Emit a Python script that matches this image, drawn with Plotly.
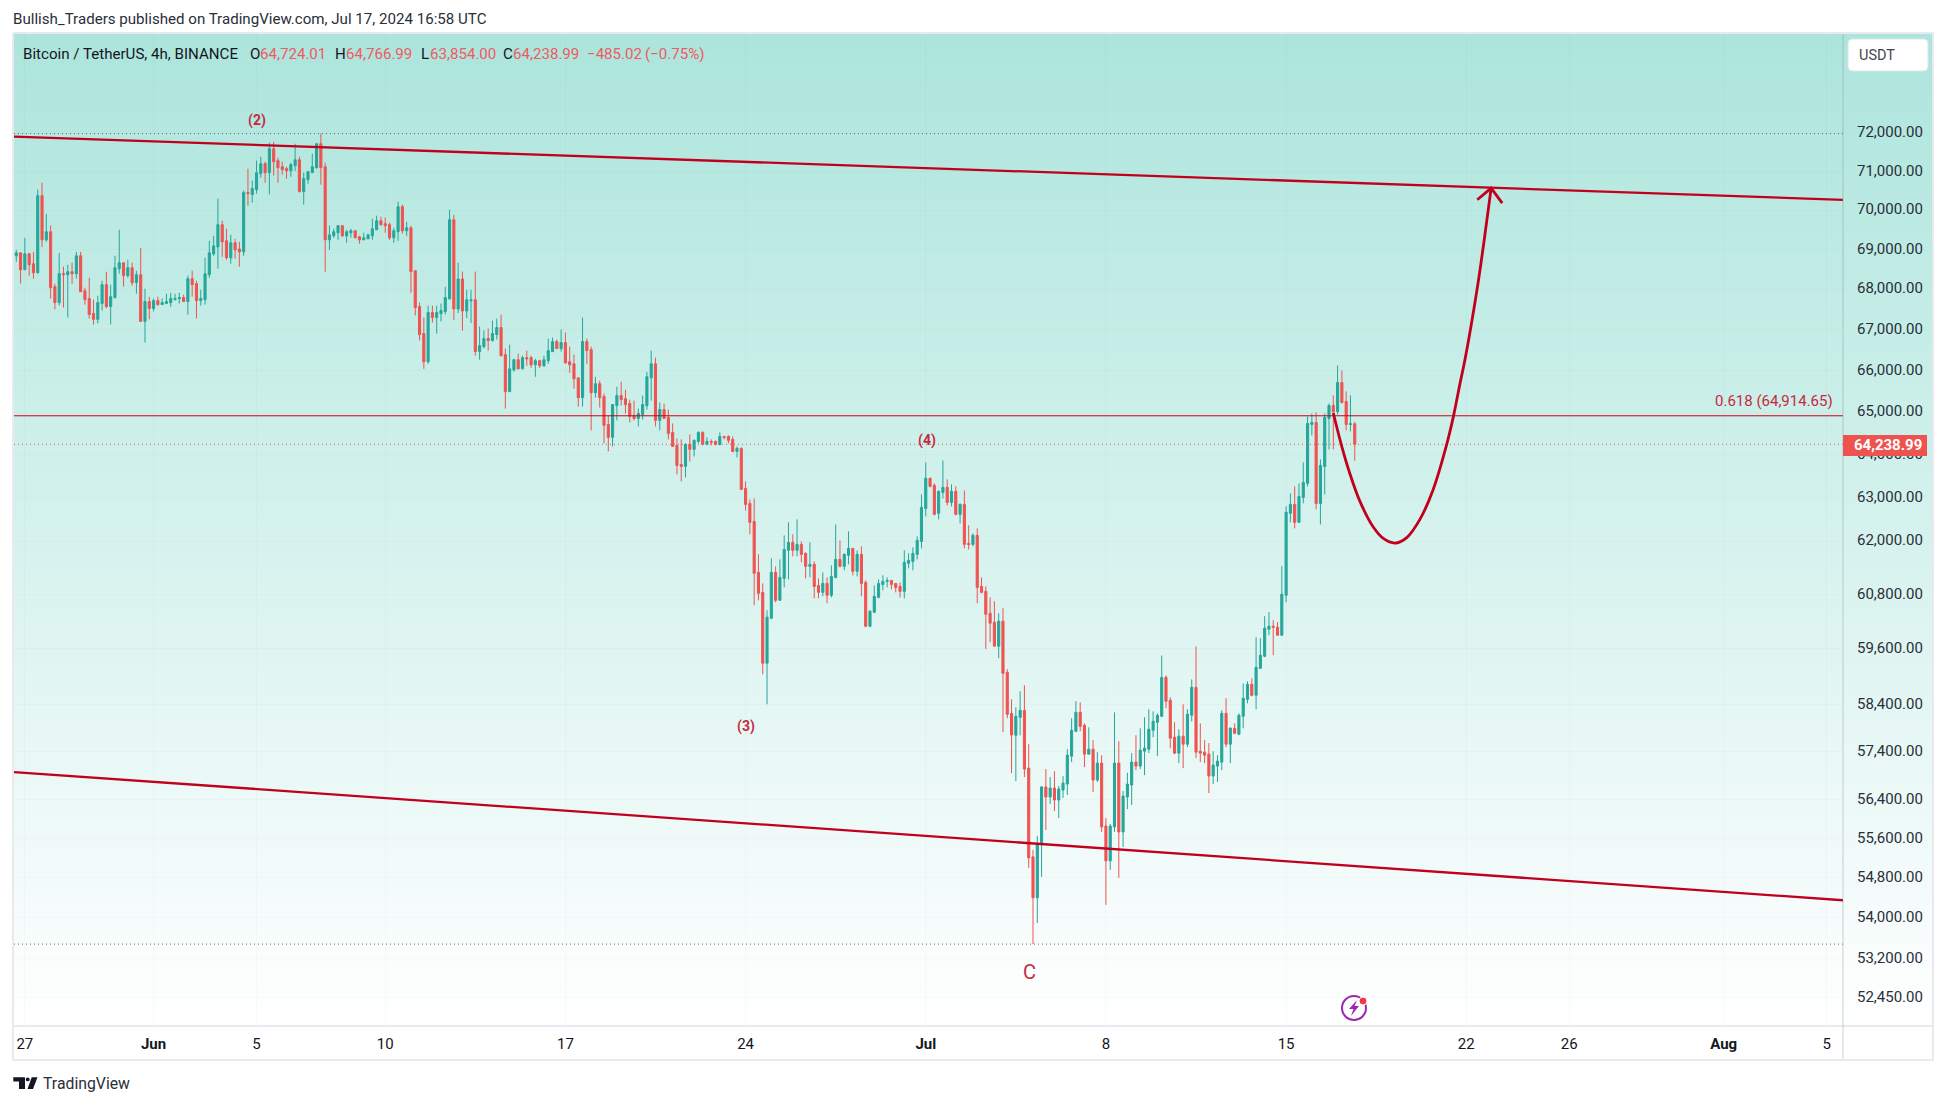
import math
import pandas as pd
import plotly.graph_objects as go

first_candle = "2024-05-26 16:00"
opens = [
68835,68910,68485,68885,68635,68410,70370,69240,69445,68060,
67665,68385,68360,68435,68385,68835,67960,67765,67395,67250,
67640,68110,67565,67790,68510,68660,68335,68535,68160,68360,
67200,67690,67520,67715,67615,67640,67665,67740,67765,67790,
67690,68260,68135,67715,67740,68360,68885,69060,69625,69215,
68785,69165,69010,68935,70450,70400,70525,70940,71200,70965,
71590,71280,71120,71070,71015,71150,71300,70475,70785,70965,
71095,71722,71120,69240,69340,69420,69600,69340,69420,69470,
69315,69240,69265,69340,69495,69725,69650,69625,69290,69445,
70085,69470,69545,68460,67565,66900,66213,67418,67295,67393,
67443,67760,69751,67508,68253,67457,67710,67734,66459,66582,
66779,66729,66877,67049,66385,65491,66016,66262,66041,66312,
66312,66139,66238,66115,66238,66459,66705,66533,66680,66213,
66164,65825,65348,66705,66508,65467,65682,65372,64709,64403,
65157,65396,65324,65205,64921,64851,64945,65157,65825,66164,
64804,65062,64874,64521,64214,63768,63721,64238,64120,64308,
64521,64238,64308,64308,64238,64426,64426,64355,64072,64143,
63209,62863,62450,61293,60846,59285,60272,61293,60669,61158,
61790,61970,61790,61925,61722,61429,61474,61000,60846,61045,
60780,61180,61586,61429,61677,61835,61316,61699,61068,60096,
60404,60735,61023,61090,61113,61045,60978,60868,61496,61541,
61699,61992,62748,63442,63279,62634,63116,63233,62886,63140,
62611,62840,61947,61925,62130,60978,60868,60382,60184,59657,
60206,59088,58207,57741,58121,58271,57049,55223,54400,55466,
56655,56448,56634,56386,56593,56717,57300,57825,58228,57951,
57342,57447,56800,57154,55851,55142,55831,57154,55730,56448,
56697,57175,57091,57405,57447,57846,58014,58143,58978,58486,
57699,57363,57720,57552,58164,58764,57405,57384,57342,56883,
57091,57175,58207,57552,57888,57762,58143,58507,58828,58593,
59175,59438,60029,60096,60074,59898,60780,62634,62840,62428,
63000,63326,64708,64756,62863,63721,64850,65160,65016,65712,65256,64708,64724.01]
highs = [
68985,68910,69290,68910,68935,70525,70705,69905,69600,68135,
68910,68560,68610,68660,68935,68935,68035,68285,67740,67835,
68210,68435,68110,68835,69495,68660,68735,68660,68460,69035,
68010,67810,67765,67810,67765,67885,67910,67885,67910,67860,
68335,68460,68210,67985,68785,69215,69340,70295,69725,69520,
69365,69265,69190,70500,71070,70760,71280,71380,71250,71750,
71775,71355,71250,71120,71225,71722,71380,70965,71015,71460,
71722,71990,71225,69600,69520,69600,69600,69495,69520,69470,
69340,69420,69395,69780,69855,69830,69805,69675,69545,70215,
70140,69700,69600,68460,67665,67295,67590,67590,67590,67640,
68058,70005,69878,68660,68437,67985,67985,68437,67074,66975,
67025,67221,67270,67369,66533,66631,66287,66410,66361,66484,
66361,66287,66262,66361,66779,66803,66754,67000,66926,66582,
66385,65825,67295,66779,66582,65849,65754,65444,64921,65181,
65610,65730,65539,65300,65276,65086,65396,65968,66484,66312,
65229,65205,65062,64733,64379,64355,64261,64473,64355,64544,
64544,64403,64355,64332,64521,64426,64450,64426,64190,64167,
63372,62954,62977,61699,61045,60449,61609,61429,61586,62130,
62427,62153,62496,61992,61745,61970,61541,61158,61293,61180,
61451,62382,62015,61722,62222,61835,61790,61880,61113,60449,
61000,61135,61226,61180,61113,61045,61068,61790,61722,61857,
62107,63070,63814,63465,63326,63163,63860,63419,63302,63256,
62863,63163,62359,62176,62290,61180,60978,60735,60647,60382,
60492,59153,58507,58336,58678,58807,57552,55364,55648,56676,
57028,56862,56986,56676,56883,57447,58100,58464,58443,57993,
57909,57636,57384,57321,56014,55892,58228,57615,56572,56952,
57363,57741,57888,58121,58293,58250,58207,59454,59021,58550,
58014,57867,58400,58293,58935,59650,57993,57636,57573,57405,
57321,58271,58528,57909,57993,58207,58850,58893,58957,59854,
59832,60316,60405,60228,60184,61435,62794,63093,63256,63326,
63814,64897,64968,64992,63884,64968,65208,65400,66122,66000,65496,65400,64766.99]
lows = [
68685,68135,68485,68335,68260,68385,69060,69190,67765,67495,
67590,67540,67295,68135,68260,67935,67615,67270,67125,67150,
67470,67520,67125,67765,68385,68060,68285,68085,67885,67200,
66680,67250,67445,67590,67615,67640,67565,67715,67640,67690,
67370,67810,67270,67590,67615,68285,68835,68510,68810,68735,
68635,68760,68560,68835,70110,70190,70425,70835,70705,70400,
70890,70705,70915,70810,70860,71015,70450,70140,70680,70965,
71070,70655,68435,68985,69290,69240,69315,69165,69290,69290,
69140,69240,69265,69240,69495,69600,69420,69240,69165,69215,
69395,69340,67910,67345,66730,66040,66165,67172,66900,67197,
67369,67735,67232,67407,66970,67281,67160,66362,66262,66533,
66484,66705,66754,66336,65086,65491,65968,66041,66041,66115,
66066,65849,66066,66090,66164,66459,66533,66459,66164,65944,
65563,65133,65133,66164,64568,65348,65110,64261,64072,64190,
64804,65157,64969,64757,64804,64662,64827,65062,65276,64662,
64568,64851,64355,64190,63535,63372,63465,63837,63954,64261,
64214,64214,64214,64214,64214,64355,64261,64049,63930,63186,
62702,62153,60559,60669,59044,58400,60250,60625,60669,60956,
61135,61654,61654,61519,61158,61180,60713,60713,60757,60603,
60735,61158,61406,61339,61474,61226,61203,60757,60074,60074,
60382,60713,60890,60956,60912,60846,60735,60713,61384,61339,
61586,61835,62565,63233,62588,62496,62977,62817,62794,62588,
62405,61835,61812,61880,60603,60824,59591,59745,59657,59394,
57806,58100,56945,56779,57741,56862,55000,53485,53900,54820,
55770,56303,56159,56014,56428,56490,57175,57804,57825,57070,
57342,56552,56759,55730,54260,54960,55730,54800,55425,56200,
56283,57007,57028,56903,57363,57699,57300,58143,58314,57468,
57342,57154,57049,57489,58036,57258,57175,57154,56531,56717,
56759,57007,57489,57154,57762,57741,57888,58421,58571,58293,
59175,59416,59898,59460,59898,59876,60625,62428,62290,62428,
62863,63256,64449,62725,62382,63070,64118,64118,64944,65208,64567,64543,63854]
closes = [
68910,68485,68885,68610,68410,70370,69240,69445,68035,67665,
68385,68360,68435,68385,68835,67935,67740,67370,67250,67665,
68110,67565,67810,68535,68660,68335,68535,68160,68360,67200,
67690,67520,67715,67615,67665,67690,67765,67765,67790,67690,
68260,68110,67715,67765,68385,68910,69085,69625,69190,68785,
69165,68985,68935,70450,70425,70555,70965,71200,70965,71590,
71250,71095,71045,71015,71175,71300,70475,70810,70990,71120,
71722,71095,69240,69365,69445,69600,69340,69445,69470,69290,
69240,69290,69365,69520,69725,69625,69600,69290,69470,70085,
69470,69545,68435,67540,66875,66213,67418,67295,67418,67467,
67787,69751,67508,68253,67457,67734,67734,66462,66606,66779,
66729,66902,67049,66361,65491,66041,66262,66041,66312,66287,
66139,66238,66115,66262,66484,66705,66533,66680,66188,66139,
65801,65348,66705,66484,65467,65682,65348,64686,64403,65181,
65396,65300,65181,64898,64851,64969,65181,65849,66164,64804,
65062,64851,64497,64190,63744,63721,64238,64120,64332,64521,
64238,64308,64285,64238,64426,64403,64332,64072,64143,63186,
62840,62427,61271,60824,59285,60294,61293,60669,61180,61812,
61970,61790,61925,61699,61429,61474,60978,60846,61045,60780,
61203,61586,61429,61699,61835,61316,61699,61045,60096,60426,
60757,61045,61090,61113,61023,60956,60868,61519,61564,61722,
62015,62771,63442,63256,62611,63140,63233,62886,63140,62611,
62840,61925,61925,62130,60956,60846,60360,60162,59657,60206,
59066,58186,57745,58143,58271,57028,55203,54400,55486,56655,
56448,56634,56386,56614,56738,57321,57846,58228,57930,57342,
57447,56800,57154,55831,55142,55851,57154,55730,56469,56717,
57175,57091,57426,57468,57867,58036,58164,58978,58464,57678,
57363,57720,57552,58186,58764,57384,57363,57321,56883,57112,
57196,58207,57552,57888,57783,58164,58528,58828,58593,59197,
59460,60052,60096,60074,59898,60802,62657,62840,62428,63023,
63349,64732,64756,62863,63744,64874,65160,65016,65712,65232,64708,64724.01,64238.99]

x_start, x_end = "2024-05-26 13:52", "2024-08-05 15:15"
price_low, price_high = 51903, 74666

upper_channel = [71910, 70263]
lower_channel = [56967, 54352]
fib_level = 64914.65
high_level = 71990
low_level = 53485
last_price = 64238.99

curve_dates = ["2024-07-16 20:00","2024-07-17 03:45","2024-07-17 11:30","2024-07-17 20:45","2024-07-18 09:15",
               "2024-07-18 18:40","2024-07-19 05:30","2024-07-19 16:30","2024-07-20 04:45","2024-07-20 17:10",
               "2024-07-21 05:40","2024-07-21 12:00","2024-07-21 18:10","2024-07-21 22:45","2024-07-22 10:00",
               "2024-07-22 16:45","2024-07-22 23:10"]
curve_prices = [64980,64205,63550,62915,62320,62060,61955,62080,62495,63185,64230,64900,65690,66260,67985,69241,70565]
arrow_dates = ["2024-07-22 10:15","2024-07-22 23:10","2024-07-23 09:30"]
arrow_prices = [70263,70565,70178]

y_tick_values = [72000,71000,70000,69000,68000,67000,66000,65000,64000,63000,62000,60800,59600,58400,57400,56400,55600,54800,54000,53200,52450]
x_tick_dates = ["2024-05-27","2024-06-01","2024-06-05","2024-06-10","2024-06-17","2024-06-24","2024-07-01","2024-07-08","2024-07-15","2024-07-22","2024-07-26","2024-08-01","2024-08-05"]
x_tick_labels = ["27","<b>Jun</b>","5","10","17","24","<b>Jul</b>","8","15","22","26","<b>Aug</b>","5"]

W, H = 1946, 1105
L, R, T, B = 14, 1843, 34, 1026
GRAD_R = 1932
BOTTOM = 1060
GREEN, RED = "#26a69a", "#ef5350"
LINE_RED = "#c0001c"
LABEL_RED = "#c62a3f"
INK = "#131722"
SANS = "Roboto"

px = lambda x: x / W
py = lambda y: 1 - y / H

dates = pd.date_range(first_candle, periods=len(opens), freq="4h")
span = [x_start, x_end]

fig = go.Figure()
fig.add_trace(go.Heatmap(x=[0, 1], y=[0, 1], z=[[1, 1], [0, 0]], zsmooth="best", showscale=False,
                         zmin=0, zmax=1, colorscale=[[0, "#ace5dc"], [1, "#ffffff"]],
                         hoverinfo="skip", xaxis="x", yaxis="y"))
fig.add_trace(go.Candlestick(x=dates, open=opens, high=highs, low=lows, close=closes,
                             increasing=dict(line=dict(color=GREEN, width=1), fillcolor=GREEN),
                             decreasing=dict(line=dict(color=RED, width=1), fillcolor=RED),
                             whiskerwidth=0, xaxis="x2", yaxis="y2", hoverinfo="skip"))

def line(xs, ys, color, width, dash="solid", shape="linear"):
    fig.add_trace(go.Scatter(x=xs, y=ys, mode="lines", xaxis="x2", yaxis="y2", hoverinfo="skip",
                             line=dict(color=color, width=width, dash=dash, shape=shape)))

line(span, [high_level] * 2, "#5f6f6c", 1, "1px,3px")
line(span, [low_level] * 2, "#5f6f6c", 1, "1px,3px")
line(span, [last_price] * 2, RED, 1, "1px,3px")
line(span, [fib_level] * 2, "#cc0014", 1)
line(span, upper_channel, LINE_RED, 2.3)
line(span, lower_channel, LINE_RED, 2.3)
line(curve_dates, curve_prices, LINE_RED, 2.8, shape="spline")
line(arrow_dates, arrow_prices, LINE_RED, 2.8)

grid = "rgba(110,120,130,0.035)"
fig.update_layout(
    width=W, height=H, margin=dict(l=0, r=0, t=0, b=0), autosize=False, showlegend=False,
    paper_bgcolor="#ffffff", plot_bgcolor="rgba(0,0,0,0)", hovermode=False,
    xaxis=dict(domain=[px(L), px(GRAD_R)], range=[0, 1], visible=False, fixedrange=True),
    yaxis=dict(domain=[py(B), py(T)], range=[0, 1], visible=False, fixedrange=True),
    xaxis2=dict(domain=[px(L), px(R)], range=span, type="date", anchor="y2", rangeslider=dict(visible=False),
                tickmode="array", tickvals=x_tick_dates, ticktext=x_tick_labels, tickangle=0,
                ticks="outside", ticklen=4, tickcolor="rgba(0,0,0,0)", showgrid=True, gridcolor=grid,
                zeroline=False, showline=False, tickfont=dict(family=SANS, size=15, color=INK)),
    yaxis2=dict(domain=[py(B), py(T)], type="log", range=[math.log10(price_low), math.log10(price_high)],
                anchor="x2", side="right", tickmode="array", tickvals=y_tick_values,
                ticktext=[f"{v:,.2f}" for v in y_tick_values], ticks="outside", ticklen=10,
                tickcolor="rgba(0,0,0,0)", showgrid=True, gridcolor=grid, zeroline=False, showline=False,
                ticklabelshift=-1, tickfont=dict(family=SANS, size=15, color="#2a2e39")),
)

shapes = []
def hline(y, x0, x1, color, width=1):
    shapes.append(dict(type="line", xref="paper", yref="paper", x0=px(x0), x1=px(x1), y0=py(y), y1=py(y),
                       line=dict(color=color, width=width)))
def vline(x, y0, y1, color, width=1):
    shapes.append(dict(type="line", xref="paper", yref="paper", x0=px(x), x1=px(x), y0=py(y0), y1=py(y1),
                       line=dict(color=color, width=width)))
def poly(points, fill):
    d = "M" + " L".join(f"{px(a):.5f},{py(b):.5f}" for a, b in points) + " Z"
    shapes.append(dict(type="path", xref="paper", yref="paper", path=d, fillcolor=fill, line=dict(width=0)))

border = "#e8eaef"
hline(B, L, GRAD_R, "#e0e3eb", 1.5)
vline(R, T, BOTTOM, "rgba(120,140,140,0.25)", 1.5)
hline(33, L - 1, GRAD_R + 2, border, 2)
hline(BOTTOM, L - 1, GRAD_R + 2, border, 2)
vline(L - 1, T - 1, BOTTOM, border, 2)
vline(GRAD_R + 1, T - 1, BOTTOM, border, 2)

# last price tag
shapes.append(dict(type="rect", xref="paper", yref="paper", x0=px(R), x1=px(1927), y0=py(435), y1=py(456),
                   fillcolor=RED, line=dict(width=0)))
# USDT button
bx0, bx1, by0, by1, r = 1848, 1928, 39, 71, 4
bd = (f"M{px(bx0+r)},{py(by0)} L{px(bx1-r)},{py(by0)} Q{px(bx1)},{py(by0)} {px(bx1)},{py(by0+r)} "
      f"L{px(bx1)},{py(by1-r)} Q{px(bx1)},{py(by1)} {px(bx1-r)},{py(by1)} L{px(bx0+r)},{py(by1)} "
      f"Q{px(bx0)},{py(by1)} {px(bx0)},{py(by1-r)} L{px(bx0)},{py(by0+r)} Q{px(bx0)},{py(by0)} {px(bx0+r)},{py(by0)} Z")
shapes.append(dict(type="path", xref="paper", yref="paper", path=bd, fillcolor="#ffffff", line=dict(color="#e0e3eb", width=1)))

# lightning badge
cx, cy, cr = 1354, 1008, 12
shapes.append(dict(type="circle", xref="paper", yref="paper", x0=px(cx-cr), x1=px(cx+cr), y0=py(cy+cr), y1=py(cy-cr),
                   line=dict(color="#9c27b0", width=2), fillcolor="rgba(0,0,0,0)"))
poly([(1357, 1000), (1349, 1009), (1353.5, 1009), (1351, 1016), (1359, 1006), (1354.5, 1006)], "#9c27b0")
shapes.append(dict(type="circle", xref="paper", yref="paper", x0=px(1359), x1=px(1367), y0=py(1005), y1=py(997),
                   fillcolor="#f23645", line=dict(color="#ffffff", width=1)))

# TradingView logo
poly([(13.3, 1077.3), (25, 1077.3), (25, 1089), (19, 1089), (19, 1081.5), (13.3, 1081.5)], INK)
poly([(31.7, 1077.3), (37.5, 1077.3), (33, 1089), (27.5, 1089)], INK)
shapes.append(dict(type="circle", xref="paper", yref="paper", x0=px(25.8), x1=px(29.6), y0=py(1081.3), y1=py(1077.5),
                   fillcolor=INK, line=dict(width=0)))
fig.update_layout(shapes=shapes)

ann = []
def text(x, y, s, color=INK, size=15.1, family=SANS, anchor="left"):
    x = x - 2 if anchor == "left" else x + 2 if anchor == "right" else x
    ann.append(dict(xref="paper", yref="paper", x=px(x), y=py(y), text=s, showarrow=False, xanchor=anchor, yanchor="middle",
                    font=dict(family=family, size=size, color=color), align=anchor))

text(13, 19, "Bullish_Traders published on TradingView.com, Jul 17, 2024 16:58 UTC", "#2a2e39")
text(23, 54, "Bitcoin / TetherUS, 4h, BINANCE")
VAL = "#f05a62"
for lx, lab, vx, val in [(249.5, "O", 260, "64,724.01"), (335, "H", 346, "64,766.99"), (421, "L", 430, "63,854.00"), (503, "C", 513, "64,238.99")]:
    text(lx, 54, lab)
    text(vx, 54, val, VAL)
text(586.5, 54, "\u2212485.02", VAL)
text(645, 54, "(\u22120.75%)", VAL)
text(257, 120.5, "<b>(2)</b>", LABEL_RED, 14, anchor="center")
text(927, 440.5, "<b>(4)</b>", LABEL_RED, 14, anchor="center")
text(746, 726, "<b>(3)</b>", LABEL_RED, 14, anchor="center")
text(1029, 972, "C", LABEL_RED, 20, anchor="center")
text(1833, 400.7, "0.618 (64,914.65)", LABEL_RED, 15, SANS, "right")
text(1859, 55, "USDT", "#434651", 14.5, SANS)
text(1887.5, 445.3, "<b>64,238.99</b>", "#ffffff", 15, SANS, "center")
text(43, 1083, "TradingView", "#2a2e39", 15.8, SANS)
fig.update_layout(annotations=ann)

fig.write_html("out.html", config=dict(displayModeBar=False),
               post_script="document.body.style.margin='0';document.body.style.overflow='hidden';")
